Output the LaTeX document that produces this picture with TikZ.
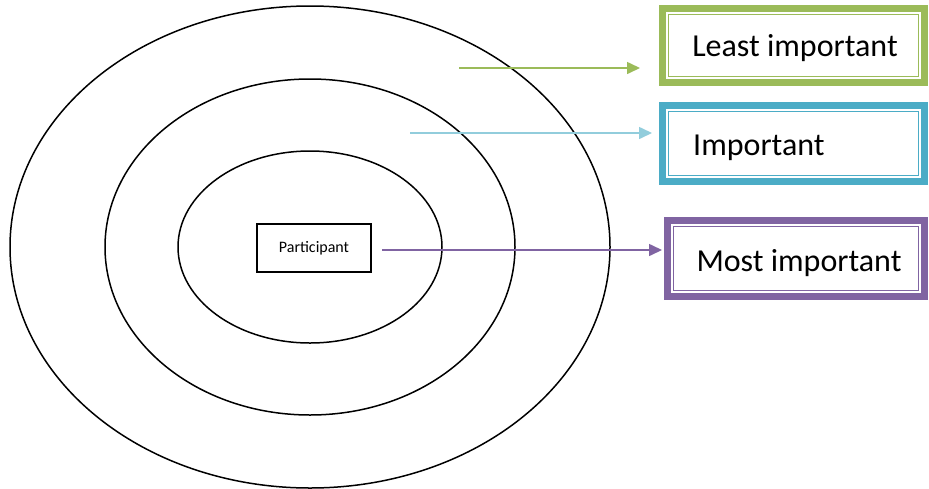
\documentclass[tikz,border=0pt]{standalone}
\usepackage{fontspec}
\setmainfont{Carlito}
\usetikzlibrary{arrows.meta}
\definecolor{lgreen}{HTML}{9BBB59}
\definecolor{lblue}{HTML}{4BACC6}
\definecolor{lbluearrow}{HTML}{92CDDC}
\definecolor{lpurple}{HTML}{8064A2}
\begin{document}
\begin{tikzpicture}[x=1pt,y=-1pt,
	every node/.style={font=\fontsize{32}{36}\selectfont},
	ring/.style={draw=black, line width=1.5pt},
	levelbox/.style={draw=#1, line width=7pt, minimum height=76pt, inner sep=0pt},
	levelarrow/.style={draw=#1, line width=1.6pt, -{Triangle[length=13pt,width=12pt]}}]
	\useasboundingbox (0,0) rectangle (929,488);
	% rings
	\draw[ring] (310,247) ellipse [x radius=300, y radius=241];
	\draw[ring] (310,247) ellipse [x radius=205, y radius=168];
	\draw[ring] (310,247) ellipse [x radius=132, y radius=96];
	\node[draw, line width=1.2pt, minimum width=114pt, minimum height=48pt, font=\fontsize{16}{18}\selectfont] (part) at (314,248) {Participant};
	% level boxes
	\node[levelbox=lgreen, minimum width=262pt, minimum height=74pt] (least) at (793.5,45.5) {};
	\node[levelbox=lblue, minimum width=262pt] (imp) at (793.5,143.5) {};
	\node[levelbox=lpurple, minimum width=257pt] (most) at (796,258.5) {};
	\foreach \b/\c in {least/lgreen, imp/lblue, most/lpurple}
		\draw[\c, line width=1.5pt] ([shift={(9.5,9.5)}]\b.north west) rectangle ([shift={(-9.5,-9.5)}]\b.south east);
	\node (leastt) at (795,48) {Least important};
	\node[anchor=west, inner sep=0pt] (impt) at (693,148) {Important};
	\node (mostt) at (799,263) {Most important};
	% arrows
	\coordinate (a1) at (459,68);
	\coordinate (a2) at (410,133);
	\coordinate (a3) at (382,250);
	\draw[levelarrow=lgreen] (a1) -- (a1 -| least.west) [shorten >=19pt];
	\draw[levelarrow=lbluearrow] (a2) -- (a2 -| imp.west) [shorten >=7pt];
	\draw[levelarrow=lpurple] (a3) -- (a3 -| most.west) [shorten >=2pt];
\end{tikzpicture}
\end{document}
